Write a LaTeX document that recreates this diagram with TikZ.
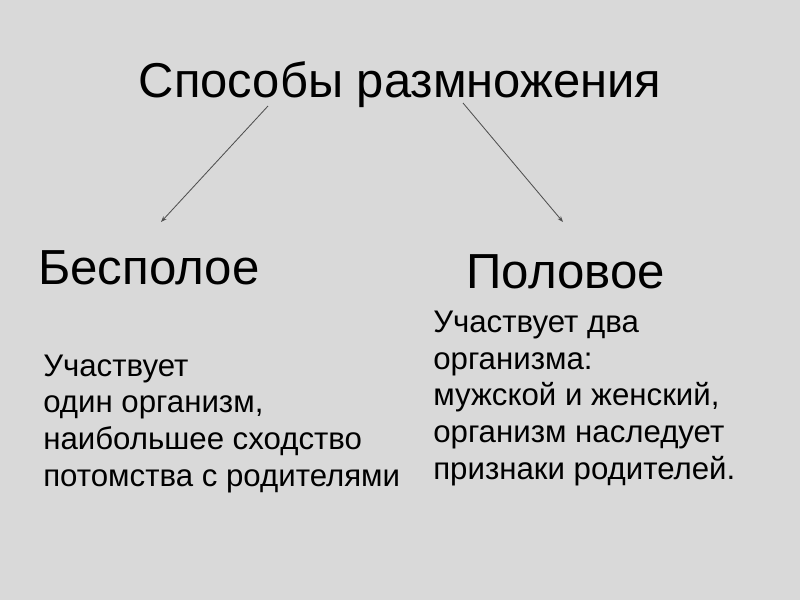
\documentclass[tikz,border=0pt]{standalone}
\usepackage{fontspec}
\setmainfont{Liberation Sans}
\usepackage{xcolor}
\usepackage{tikz}
\usetikzlibrary{arrows.meta}
\definecolor{fondo}{HTML}{D9D9D9}
\definecolor{linea}{HTML}{505050}

\begin{document}
\begin{tikzpicture}[
  x=0.025cm, y=-0.025cm,
  titulo/.style={font=\fontsize{34.8}{42}\selectfont, inner sep=0pt, anchor=base},
  tipo/.style={font=\fontsize{35}{42}\selectfont, inner sep=0pt, anchor=base west},
  texto/.style={font=\fontsize{22.2}{26}\selectfont, align=left, inner sep=0pt, anchor=base west},
  flecha/.style={-{Stealth[length=1.5mm, width=1.1mm]}, draw=linea, line width=0.6pt}
]
  \fill[fondo] (0,0) rectangle (800,600);
  \node[titulo] (metodos) at (400,97) {Способы размножения};

  \node[tipo] (asexual) at (38,284) {Бесполое};
  \node[tipo] (sexual) at (466,288) {Половое};

  % anclados en la linea base de la ultima fila
  \node[texto] (asexTxt) at (43,486)
        {Участвует\\один организм,\\наибольшее сходство\\потомства с родителями};
  \node[texto] (sexTxt) at (433,479)
        {Участвует два\\организма:\\мужской и женский,\\организм наследует\\признаки родителей.};

  \coordinate (iniA) at (268,106);
  \coordinate (finA) at (161,222);
  \coordinate (iniS) at (463,103);
  \coordinate (finS) at (563,222);
  \draw[flecha] (iniA) -- (finA);
  \draw[flecha] (iniS) -- (finS);
\end{tikzpicture}
\end{document}
